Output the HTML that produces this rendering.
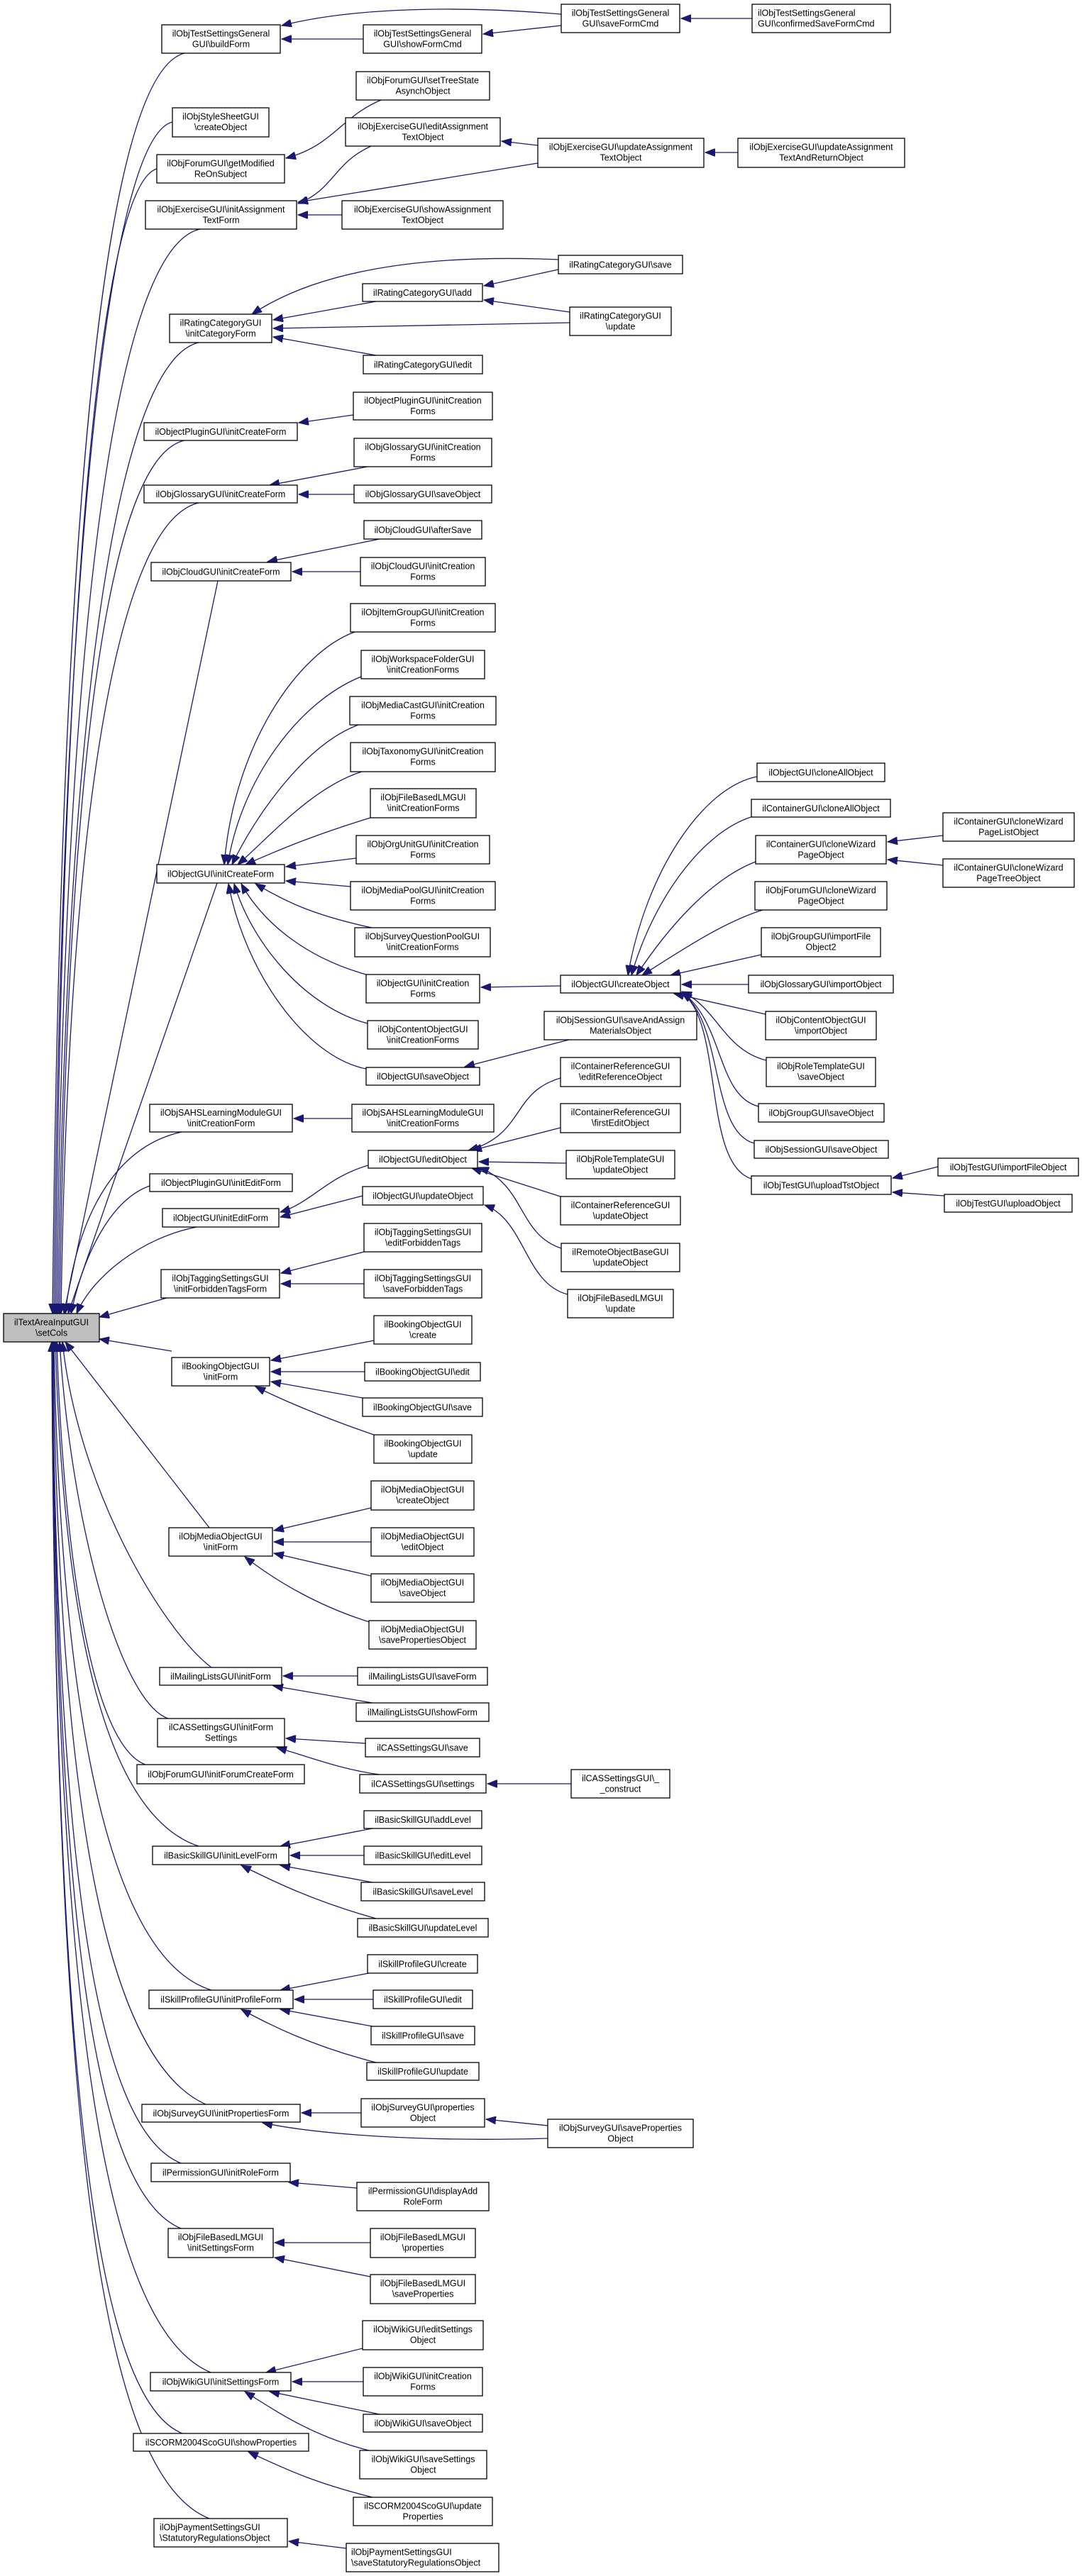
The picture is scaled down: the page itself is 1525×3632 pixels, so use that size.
<!DOCTYPE html>
<html><head><meta charset="utf-8"><style>
html,body{margin:0;padding:0;background:#fff;}
svg{display:block;}
rect{fill:#fff;stroke:#000;stroke-width:1.3;}
text{font-family:"Liberation Sans",Arial,sans-serif;font-size:12.5px;fill:#000;text-anchor:middle;}
text.l{text-anchor:start;}
path{fill:none;stroke:#191970;stroke-width:1.3;marker-end:url(#a);}
</style></head><body>
<svg width="1525" height="3632" viewBox="0 0 1525 3632" xmlns="http://www.w3.org/2000/svg">
<defs><marker id="a" markerUnits="userSpaceOnUse" markerWidth="15" markerHeight="11" refX="14" refY="5.5" orient="auto"><path d="M0,0 L14,5.5 L0,11 z" style="fill:#191970;stroke:#191970;stroke-width:1;marker-end:none"/></marker></defs>

<!-- edges into root (above) -->
<path d="M260 75 C140 105, 85 786, 74 1852"/>
<path d="M243 172 C150 195, 86 830, 76 1852"/>
<path d="M221 238 C140 262, 88 860, 78 1852"/>
<path d="M282 323 C160 350, 90 900, 80 1852"/>
<path d="M280 483 C165 510, 92 1000, 82 1852"/>
<path d="M260 621 C150 645, 94 1100, 84 1852"/>
<path d="M280 709 C165 735, 96 1150, 86 1852"/>
<path d="M307 819 L90 1852"/>
<path d="M306 1245 L96 1852"/>
<path d="M256 1596 C170 1615, 110 1700, 92 1852"/>
<path d="M211 1672 C160 1690, 120 1760, 100 1852"/>
<path d="M277 1730 C200 1745, 130 1800, 108 1852"/>
<path d="M235 1830 L140 1857"/>
<path d="M242 1905 L140 1888"/>
<!-- edges into root (below) -->
<path d="M295 2154 L92 1892"/>
<path d="M298 2351 C230 2300, 110 2100, 88 1892"/>
<path d="M237 2423 C170 2400, 100 2150, 84 1892"/>
<path d="M205 2488 C130 2460, 90 2200, 80 1892"/>
<path d="M280 2603 C150 2560, 90 2300, 78 1892"/>
<path d="M298 2806 C150 2760, 85 2400, 76 1892"/>
<path d="M290 2967 C140 2900, 82 2500, 75 1892"/>
<path d="M255 3050 C130 3000, 80 2600, 74 1892"/>
<path d="M255 3142 C130 3090, 80 2700, 74 1892"/>
<path d="M297 3345 C140 3280, 79 2800, 73 1892"/>
<path d="M257 3431 C130 3380, 78 2900, 73 1892"/>
<path d="M295 3551 C140 3490, 78 3000, 73 1892"/>

<!-- top cluster -->
<path d="M512 55 L397 55"/>
<path d="M791 20 C650 8, 500 10, 397 36"/>
<path d="M791 36 L681 48"/>
<path d="M1060 26 L960 26"/>
<path d="M537 141 C480 165, 470 205, 403 223"/>
<path d="M523 206 C470 230, 470 268, 420 287"/>
<path d="M758 230 L420 285"/>
<path d="M482 303 L420 303"/>
<path d="M758 205 L707 199"/>
<path d="M1040 215 L994 215"/>
<!-- rating -->
<path d="M787 366 C600 358, 450 380, 355 443"/>
<path d="M530 425 L385 451"/>
<path d="M803 455 L385 463"/>
<path d="M530 501 L385 475"/>
<path d="M787 380 L682 403"/>
<path d="M803 440 L682 423"/>
<!-- create forms -->
<path d="M498 585 L421 596"/>
<path d="M518 658 L380 684"/>
<path d="M499 697 L421 697"/>
<path d="M535 760 L377 792"/>
<path d="M508 806 L412 806"/>
<!-- initCreateForm fan -->
<path d="M500 891 C420 920, 330 1050, 316 1219"/>
<path d="M509 954 C420 990, 340 1100, 321 1219"/>
<path d="M505 1022 C430 1050, 360 1150, 327 1219"/>
<path d="M510 1088 C440 1110, 380 1180, 335 1219"/>
<path d="M522 1153 C450 1175, 400 1195, 346 1219"/>
<path d="M502 1210 L403 1222"/>
<path d="M494 1250 L403 1242"/>
<path d="M524 1308 C440 1290, 400 1270, 360 1246"/>
<path d="M516 1374 C430 1350, 370 1300, 340 1246"/>
<path d="M518 1443 C430 1420, 355 1330, 330 1246"/>
<path d="M516 1507 C430 1490, 345 1370, 322 1246"/>
<path d="M790 1390 L678 1392"/>
<path d="M802 1466 L655 1504"/>
<!-- createObject fan -->
<path d="M1067 1095 C990 1110, 910 1230, 885 1375"/>
<path d="M1065 1150 C990 1170, 920 1270, 890 1375"/>
<path d="M1065 1215 C1000 1240, 940 1310, 897 1375"/>
<path d="M1075 1283 C1020 1300, 960 1340, 905 1375"/>
<path d="M1073 1346 L945 1375"/>
<path d="M1055 1388 L961 1388"/>
<path d="M1079 1430 L950 1401"/>
<path d="M1080 1495 C1020 1480, 1010 1420, 961 1398"/>
<path d="M1069 1560 C1010 1545, 1020 1440, 961 1399"/>
<path d="M1063 1612 C1000 1595, 1020 1440, 961 1400"/>
<path d="M1059 1662 C990 1640, 1020 1440, 961 1400"/>
<path d="M1329 1178 L1251 1187"/>
<path d="M1329 1220 L1251 1212"/>
<path d="M1322 1645 L1258 1661"/>
<path d="M1331 1686 L1258 1681"/>
<!-- SAHS / edit -->
<path d="M496 1577 L414 1577"/>
<path d="M519 1643 C460 1660, 440 1695, 395 1709"/>
<path d="M511 1686 L395 1716"/>
<path d="M790 1520 C720 1540, 740 1600, 660 1622"/>
<path d="M790 1590 L665 1622"/>
<path d="M798 1640 L675 1638"/>
<path d="M790 1687 L665 1647"/>
<path d="M791 1760 C730 1740, 740 1670, 675 1646"/>
<path d="M800 1825 C740 1810, 740 1720, 683 1699"/>
<path d="M513 1765 L396 1795"/>
<path d="M513 1810 L396 1810"/>
<!-- booking -->
<path d="M527 1890 L382 1918"/>
<path d="M514 1934 L382 1934"/>
<path d="M511 1971 L382 1948"/>
<path d="M527 2023 C460 2000, 400 1975, 360 1955"/>
<!-- media object -->
<path d="M523 2126 L386 2158"/>
<path d="M523 2174 L386 2174"/>
<path d="M523 2222 L386 2190"/>
<path d="M521 2287 C450 2265, 390 2230, 345 2195"/>
<!-- mailing / cas -->
<path d="M504 2363 L399 2363"/>
<path d="M525 2401 L385 2377"/>
<path d="M515 2458 L403 2451"/>
<path d="M535 2502 C480 2495, 430 2475, 390 2464"/>
<path d="M805 2515 L687 2515"/>
<!-- basic skill -->
<path d="M525 2578 L395 2603"/>
<path d="M513 2616 L409 2616"/>
<path d="M525 2654 L395 2630"/>
<path d="M530 2705 C440 2680, 380 2650, 340 2630"/>
<!-- skill profile -->
<path d="M520 2782 L395 2806"/>
<path d="M526 2819 L415 2819"/>
<path d="M525 2857 L395 2833"/>
<path d="M530 2908 C440 2885, 380 2855, 340 2833"/>
<!-- survey -->
<path d="M509 2979 L425 2979"/>
<path d="M772 3015 C600 3020, 450 3010, 370 2993"/>
<path d="M772 2997 L685 2988"/>
<path d="M503 3085 L407 3077"/>
<path d="M522 3162 L387 3162"/>
<path d="M522 3210 L387 3183"/>
<!-- wiki -->
<path d="M511 3311 L375 3345"/>
<path d="M512 3358 L412 3358"/>
<path d="M535 3404 L380 3372"/>
<path d="M520 3455 C440 3435, 390 3400, 345 3372"/>
<path d="M525 3521 C440 3500, 400 3480, 350 3457"/>
<path d="M488 3593 L407 3583"/>

<!-- root -->
<rect x="5" y="1852" width="135" height="40" style="fill:#bfbfbf"/>
<text x="72.5" y="1868.5">ilTextAreaInputGUI</text><text x="72.5" y="1883.5">\setCols</text>

<!-- column 1 -->
<rect x="228" y="35" width="167" height="40"/><text x="311.5" y="51.5">ilObjTestSettingsGeneral</text><text x="311.5" y="66.5">GUI\buildForm</text>
<rect x="243" y="152" width="136" height="41"/><text x="311" y="168.5">ilObjStyleSheetGUI</text><text x="311" y="183.5">\createObject</text>
<rect x="221" y="218" width="180" height="40"/><text x="311" y="234.5">ilObjForumGUI\getModified</text><text x="311" y="249.5">ReOnSubject</text>
<rect x="205" y="283" width="213" height="40"/><text x="311.5" y="299.5">ilObjExerciseGUI\initAssignment</text><text x="311.5" y="314.5">TextForm</text>
<rect x="239" y="443" width="144" height="40"/><text x="311" y="459.5">ilRatingCategoryGUI</text><text x="311" y="474.5">\initCategoryForm</text>
<rect x="203" y="596" width="216" height="25"/><text x="311" y="613">ilObjectPluginGUI\initCreateForm</text>
<rect x="203" y="684" width="216" height="25"/><text x="311" y="701">ilObjGlossaryGUI\initCreateForm</text>
<rect x="213" y="793" width="197" height="26"/><text x="311.5" y="810.5">ilObjCloudGUI\initCreateForm</text>
<rect x="221" y="1219" width="180" height="26"/><text x="311" y="1236.5">ilObjectGUI\initCreateForm</text>
<rect x="211" y="1557" width="201" height="39"/><text x="311.5" y="1573">ilObjSAHSLearningModuleGUI</text><text x="311.5" y="1588">\initCreationForm</text>
<rect x="211" y="1655" width="201" height="25"/><text x="311.5" y="1672">ilObjectPluginGUI\initEditForm</text>
<rect x="229" y="1704" width="164" height="26"/><text x="311" y="1721.5">ilObjectGUI\initEditForm</text>
<rect x="227" y="1790" width="167" height="40"/><text x="310.5" y="1806.5">ilObjTaggingSettingsGUI</text><text x="310.5" y="1821.5">\initForbiddenTagsForm</text>
<rect x="242" y="1914" width="138" height="40"/><text x="311" y="1930.5">ilBookingObjectGUI</text><text x="311" y="1945.5">\initForm</text>
<rect x="238" y="2154" width="146" height="40"/><text x="311" y="2170.5">ilObjMediaObjectGUI</text><text x="311" y="2185.5">\initForm</text>
<rect x="225" y="2351" width="172" height="25"/><text x="311" y="2368">ilMailingListsGUI\initForm</text>
<rect x="222" y="2423" width="179" height="40"/><text x="311.5" y="2439.5">ilCASSettingsGUI\initForm</text><text x="311.5" y="2454.5">Settings</text>
<rect x="193" y="2488" width="236" height="27"/><text x="311" y="2506">ilObjForumGUI\initForumCreateForm</text>
<rect x="215" y="2603" width="192" height="26"/><text x="311" y="2620.5">ilBasicSkillGUI\initLevelForm</text>
<rect x="210" y="2806" width="203" height="26"/><text x="311.5" y="2823.5">ilSkillProfileGUI\initProfileForm</text>
<rect x="200" y="2967" width="223" height="25"/><text x="311.5" y="2984">ilObjSurveyGUI\initPropertiesForm</text>
<rect x="213" y="3050" width="196" height="26"/><text x="311" y="3067.5">ilPermissionGUI\initRoleForm</text>
<rect x="237" y="3142" width="148" height="41"/><text x="311" y="3158.5">ilObjFileBasedLMGUI</text><text x="311" y="3173.5">\initSettingsForm</text>
<rect x="212" y="3345" width="198" height="26"/><text x="311" y="3362.5">ilObjWikiGUI\initSettingsForm</text>
<rect x="188" y="3431" width="247" height="25"/><text x="311.5" y="3448">ilSCORM2004ScoGUI\showProperties</text>
<rect x="217" y="3551" width="188" height="40"/><text class="l" x="225" y="3567.5">ilObjPaymentSettingsGUI</text><text class="l" x="225" y="3582.5">\StatutoryRegulationsObject</text>

<!-- column 2 -->
<rect x="512" y="35" width="167" height="40"/><text x="595.5" y="51.5">ilObjTestSettingsGeneral</text><text x="595.5" y="66.5">GUI\showFormCmd</text>
<rect x="502" y="101" width="188" height="40"/><text x="596" y="117.5">ilObjForumGUI\setTreeState</text><text x="596" y="132.5">AsynchObject</text>
<rect x="487" y="166" width="218" height="40"/><text x="596" y="182.5">ilObjExerciseGUI\editAssignment</text><text x="596" y="197.5">TextObject</text>
<rect x="482" y="283" width="227" height="40"/><text x="595.5" y="299.5">ilObjExerciseGUI\showAssignment</text><text x="595.5" y="314.5">TextObject</text>
<rect x="511" y="400" width="169" height="25"/><text x="595.5" y="417">ilRatingCategoryGUI\add</text>
<rect x="512" y="501" width="168" height="26"/><text x="596" y="518.5">ilRatingCategoryGUI\edit</text>
<rect x="498" y="553" width="196" height="39"/><text x="596" y="569">ilObjectPluginGUI\initCreation</text><text x="596" y="584">Forms</text>
<rect x="499" y="618" width="194" height="40"/><text x="596" y="634.5">ilObjGlossaryGUI\initCreation</text><text x="596" y="649.5">Forms</text>
<rect x="499" y="684" width="194" height="25"/><text x="596" y="701">ilObjGlossaryGUI\saveObject</text>
<rect x="513" y="734" width="166" height="26"/><text x="596" y="751.5">ilObjCloudGUI\afterSave</text>
<rect x="508" y="786" width="176" height="40"/><text x="596" y="802.5">ilObjCloudGUI\initCreation</text><text x="596" y="817.5">Forms</text>
<rect x="494" y="851" width="204" height="40"/><text x="596" y="867.5">ilObjItemGroupGUI\initCreation</text><text x="596" y="882.5">Forms</text>
<rect x="509" y="917" width="174" height="40"/><text x="596" y="933.5">ilObjWorkspaceFolderGUI</text><text x="596" y="948.5">\initCreationForms</text>
<rect x="493" y="982" width="206" height="40"/><text x="596" y="998.5">ilObjMediaCastGUI\initCreation</text><text x="596" y="1013.5">Forms</text>
<rect x="494" y="1047" width="204" height="41"/><text x="596" y="1063.5">ilObjTaxonomyGUI\initCreation</text><text x="596" y="1078.5">Forms</text>
<rect x="522" y="1112" width="149" height="41"/><text x="596.5" y="1128.5">ilObjFileBasedLMGUI</text><text x="596.5" y="1143.5">\initCreationForms</text>
<rect x="502" y="1178" width="188" height="40"/><text x="596" y="1194.5">ilObjOrgUnitGUI\initCreation</text><text x="596" y="1209.5">Forms</text>
<rect x="494" y="1243" width="204" height="40"/><text x="596" y="1259.5">ilObjMediaPoolGUI\initCreation</text><text x="596" y="1274.5">Forms</text>
<rect x="500" y="1308" width="191" height="41"/><text x="595.5" y="1324.5">ilObjSurveyQuestionPoolGUI</text><text x="595.5" y="1339.5">\initCreationForms</text>
<rect x="516" y="1374" width="160" height="40"/><text x="596" y="1390.5">ilObjectGUI\initCreation</text><text x="596" y="1405.5">Forms</text>
<rect x="518" y="1439" width="156" height="40"/><text x="596" y="1455.5">ilObjContentObjectGUI</text><text x="596" y="1470.5">\initCreationForms</text>
<rect x="516" y="1505" width="160" height="25"/><text x="596" y="1522">ilObjectGUI\saveObject</text>
<rect x="496" y="1557" width="200" height="39"/><text x="596" y="1573">ilObjSAHSLearningModuleGUI</text><text x="596" y="1588">\initCreationForms</text>
<rect x="519" y="1622" width="154" height="25"/><text x="596" y="1639">ilObjectGUI\editObject</text>
<rect x="511" y="1673" width="170" height="26"/><text x="596" y="1690.5">ilObjectGUI\updateObject</text>
<rect x="513" y="1725" width="166" height="40"/><text x="596" y="1741.5">ilObjTaggingSettingsGUI</text><text x="596" y="1756.5">\editForbiddenTags</text>
<rect x="513" y="1790" width="166" height="40"/><text x="596" y="1806.5">ilObjTaggingSettingsGUI</text><text x="596" y="1821.5">\saveForbiddenTags</text>
<rect x="527" y="1855" width="138" height="40"/><text x="596" y="1871.5">ilBookingObjectGUI</text><text x="596" y="1886.5">\create</text>
<rect x="514" y="1921" width="163" height="26"/><text x="595.5" y="1938.5">ilBookingObjectGUI\edit</text>
<rect x="511" y="1971" width="169" height="26"/><text x="595.5" y="1988.5">ilBookingObjectGUI\save</text>
<rect x="527" y="2023" width="138" height="40"/><text x="596" y="2039.5">ilBookingObjectGUI</text><text x="596" y="2054.5">\update</text>
<rect x="523" y="2088" width="145" height="41"/><text x="595.5" y="2104.5">ilObjMediaObjectGUI</text><text x="595.5" y="2119.5">\createObject</text>
<rect x="523" y="2154" width="145" height="40"/><text x="595.5" y="2170.5">ilObjMediaObjectGUI</text><text x="595.5" y="2185.5">\editObject</text>
<rect x="523" y="2219" width="145" height="40"/><text x="595.5" y="2235.5">ilObjMediaObjectGUI</text><text x="595.5" y="2250.5">\saveObject</text>
<rect x="520" y="2285" width="151" height="40"/><text x="595.5" y="2301.5">ilObjMediaObjectGUI</text><text x="595.5" y="2316.5">\savePropertiesObject</text>
<rect x="504" y="2351" width="183" height="25"/><text x="595.5" y="2368">ilMailingListsGUI\saveForm</text>
<rect x="502" y="2401" width="187" height="26"/><text x="595.5" y="2418.5">ilMailingListsGUI\showForm</text>
<rect x="515" y="2451" width="161" height="26"/><text x="595.5" y="2468.5">ilCASSettingsGUI\save</text>
<rect x="507" y="2502" width="178" height="26"/><text x="596" y="2519.5">ilCASSettingsGUI\settings</text>
<rect x="513" y="2553" width="166" height="25"/><text x="596" y="2570">ilBasicSkillGUI\addLevel</text>
<rect x="513" y="2603" width="166" height="26"/><text x="596" y="2620.5">ilBasicSkillGUI\editLevel</text>
<rect x="509" y="2654" width="174" height="26"/><text x="596" y="2671.5">ilBasicSkillGUI\saveLevel</text>
<rect x="504" y="2705" width="184" height="26"/><text x="596" y="2722.5">ilBasicSkillGUI\updateLevel</text>
<rect x="518" y="2756" width="155" height="26"/><text x="595.5" y="2773.5">ilSkillProfileGUI\create</text>
<rect x="526" y="2806" width="140" height="26"/><text x="596" y="2823.5">ilSkillProfileGUI\edit</text>
<rect x="523" y="2857" width="146" height="26"/><text x="596" y="2874.5">ilSkillProfileGUI\save</text>
<rect x="517" y="2908" width="158" height="25"/><text x="596" y="2925">ilSkillProfileGUI\update</text>
<rect x="509" y="2959" width="174" height="40"/><text x="596" y="2975.5">ilObjSurveyGUI\properties</text><text x="596" y="2990.5">Object</text>
<rect x="503" y="3077" width="186" height="40"/><text x="596" y="3093.5">ilPermissionGUI\displayAdd</text><text x="596" y="3108.5">RoleForm</text>
<rect x="522" y="3142" width="148" height="41"/><text x="596" y="3158.5">ilObjFileBasedLMGUI</text><text x="596" y="3173.5">\properties</text>
<rect x="522" y="3207" width="148" height="41"/><text x="596" y="3223.5">ilObjFileBasedLMGUI</text><text x="596" y="3238.5">\saveProperties</text>
<rect x="511" y="3272" width="170" height="41"/><text x="596" y="3288.5">ilObjWikiGUI\editSettings</text><text x="596" y="3303.5">Object</text>
<rect x="512" y="3338" width="168" height="40"/><text x="596" y="3354.5">ilObjWikiGUI\initCreation</text><text x="596" y="3369.5">Forms</text>
<rect x="512" y="3404" width="168" height="25"/><text x="596" y="3421">ilObjWikiGUI\saveObject</text>
<rect x="507" y="3455" width="179" height="40"/><text x="596.5" y="3471.5">ilObjWikiGUI\saveSettings</text><text x="596.5" y="3486.5">Object</text>
<rect x="498" y="3521" width="196" height="40"/><text x="596" y="3537.5">ilSCORM2004ScoGUI\update</text><text x="596" y="3552.5">Properties</text>
<rect x="488" y="3586" width="215" height="40"/><text class="l" x="495" y="3602.5">ilObjPaymentSettingsGUI</text><text class="l" x="495" y="3617.5">\saveStatutoryRegulationsObject</text>

<!-- column 3 -->
<rect x="791" y="6" width="167" height="40"/><text x="874.5" y="22.5">ilObjTestSettingsGeneral</text><text x="874.5" y="37.5">GUI\saveFormCmd</text>
<rect x="758" y="195" width="234" height="41"/><text x="875" y="211.5">ilObjExerciseGUI\updateAssignment</text><text x="875" y="226.5">TextObject</text>
<rect x="787" y="360" width="175" height="26"/><text x="874.5" y="377.5">ilRatingCategoryGUI\save</text>
<rect x="803" y="433" width="143" height="40"/><text x="874.5" y="449.5">ilRatingCategoryGUI</text><text x="874.5" y="464.5">\update</text>
<rect x="790" y="1375" width="169" height="25"/><text x="874.5" y="1392">ilObjectGUI\createObject</text>
<rect x="767" y="1426" width="215" height="40"/><text x="874.5" y="1442.5">ilObjSessionGUI\saveAndAssign</text><text x="874.5" y="1457.5">MaterialsObject</text>
<rect x="790" y="1491" width="169" height="41"/><text x="874.5" y="1507.5">ilContainerReferenceGUI</text><text x="874.5" y="1522.5">\editReferenceObject</text>
<rect x="790" y="1556" width="169" height="41"/><text x="874.5" y="1572.5">ilContainerReferenceGUI</text><text x="874.5" y="1587.5">\firstEditObject</text>
<rect x="798" y="1622" width="153" height="40"/><text x="874.5" y="1638.5">ilObjRoleTemplateGUI</text><text x="874.5" y="1653.5">\updateObject</text>
<rect x="790" y="1687" width="169" height="40"/><text x="874.5" y="1703.5">ilContainerReferenceGUI</text><text x="874.5" y="1718.5">\updateObject</text>
<rect x="791" y="1753" width="167" height="40"/><text x="874.5" y="1769.5">ilRemoteObjectBaseGUI</text><text x="874.5" y="1784.5">\updateObject</text>
<rect x="800" y="1818" width="149" height="40"/><text x="874.5" y="1834.5">ilObjFileBasedLMGUI</text><text x="874.5" y="1849.5">\update</text>
<rect x="805" y="2495" width="139" height="40"/><text x="874.5" y="2511.5">ilCASSettingsGUI\_</text><text x="874.5" y="2526.5">_construct</text>
<rect x="772" y="2988" width="205" height="40"/><text x="874.5" y="3004.5">ilObjSurveyGUI\saveProperties</text><text x="874.5" y="3019.5">Object</text>

<!-- column 4 -->
<rect x="1060" y="6" width="195" height="40"/><text class="l" x="1068" y="22.5">ilObjTestSettingsGeneral</text><text class="l" x="1068" y="37.5">GUI\confirmedSaveFormCmd</text>
<rect x="1040" y="195" width="235" height="41"/><text x="1157.5" y="211.5">ilObjExerciseGUI\updateAssignment</text><text x="1157.5" y="226.5">TextAndReturnObject</text>
<rect x="1067" y="1076" width="180" height="26"/><text x="1157" y="1093.5">ilObjectGUI\cloneAllObject</text>
<rect x="1059" y="1127" width="196" height="25"/><text x="1157" y="1144">ilContainerGUI\cloneAllObject</text>
<rect x="1065" y="1178" width="184" height="40"/><text x="1157" y="1194.5">ilContainerGUI\cloneWizard</text><text x="1157" y="1209.5">PageObject</text>
<rect x="1064" y="1243" width="186" height="40"/><text x="1157" y="1259.5">ilObjForumGUI\cloneWizard</text><text x="1157" y="1274.5">PageObject</text>
<rect x="1073" y="1308" width="168" height="41"/><text x="1157" y="1324.5">ilObjGroupGUI\importFile</text><text x="1157" y="1339.5">Object2</text>
<rect x="1055" y="1375" width="204" height="25"/><text x="1157" y="1392">ilObjGlossaryGUI\importObject</text>
<rect x="1079" y="1426" width="156" height="40"/><text x="1157" y="1442.5">ilObjContentObjectGUI</text><text x="1157" y="1457.5">\importObject</text>
<rect x="1080" y="1491" width="154" height="41"/><text x="1157" y="1507.5">ilObjRoleTemplateGUI</text><text x="1157" y="1522.5">\saveObject</text>
<rect x="1069" y="1556" width="177" height="26"/><text x="1157.5" y="1573.5">ilObjGroupGUI\saveObject</text>
<rect x="1063" y="1608" width="189" height="25"/><text x="1157.5" y="1625">ilObjSessionGUI\saveObject</text>
<rect x="1059" y="1658" width="197" height="26"/><text x="1157.5" y="1675.5">ilObjTestGUI\uploadTstObject</text>

<!-- column 5 -->
<rect x="1329" y="1146" width="185" height="40"/><text x="1421.5" y="1162.5">ilContainerGUI\cloneWizard</text><text x="1421.5" y="1177.5">PageListObject</text>
<rect x="1329" y="1211" width="185" height="40"/><text x="1421.5" y="1227.5">ilContainerGUI\cloneWizard</text><text x="1421.5" y="1242.5">PageTreeObject</text>
<rect x="1322" y="1633" width="198" height="25"/><text x="1421" y="1650">ilObjTestGUI\importFileObject</text>
<rect x="1331" y="1684" width="180" height="25"/><text x="1421" y="1701">ilObjTestGUI\uploadObject</text>
</svg>
</body></html>
